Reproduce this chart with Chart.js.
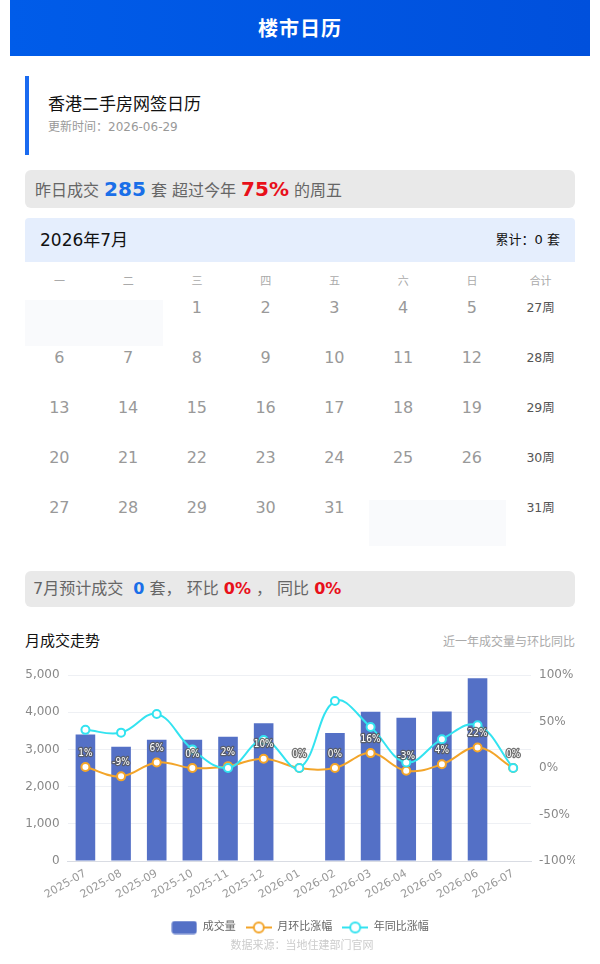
<!DOCTYPE html>
<html lang="zh-CN">
<head>
<meta charset="utf-8">
<title>楼市日历</title>
<script src="https://cdn.jsdelivr.net/npm/chart.js@4.4.1/dist/chart.umd.min.js"></script>
<style>
  body {
    margin: 0;
    width: 600px;
    height: 964px;
    background: #fff;
    font-family: "DejaVu Sans", "Noto Sans CJK SC", sans-serif;
    position: relative;
    overflow: hidden;
  }
  .abs { position: absolute; }
  .header {
    left: 10px; top: 0; width: 580px; height: 56px;
    background: linear-gradient(90deg, #005ce9, #0050dc);
    color: #fff; font-size: 20px; font-weight: bold;
    text-align: center; line-height: 58px; letter-spacing: 1px;
  }
  .side-bar { left: 25px; top: 76px; width: 4px; height: 79px; background: #1a6bf0; }
  .page-title { left: 48px; top: 92px; font-size: 17px; line-height: 24px; color: #111; }
  .update-time { left: 48px; top: 118px; font-size: 12px; line-height: 18px; color: #999; }
  .grey-box {
    left: 25px; width: 550px; background: #e9e9e9; border-radius: 6px;
    color: #666; white-space: nowrap;
  }
  .box-yesterday { top: 170px; height: 38px; line-height: 38px; font-size: 16px; padding-left: 10px; box-sizing: border-box; }
  .box-forecast { top: 571px; height: 36px; line-height: 36px; font-size: 16px; padding-left: 8px; box-sizing: border-box; }
  .blue { color: #1a6fe8; font-weight: bold; }
  .red { color: #e8101a; font-weight: bold; }
  .big { font-size: 20px; }
  .cal-head {
    left: 25px; top: 218px; width: 550px; height: 44px; background: #e5eefd;
    border-radius: 4px 4px 0 0; box-sizing: border-box; padding: 0 15px;
  }
  .cal-month { position: absolute; left: 15px; top: 0; line-height: 44px; font-size: 17px; color: #111; }
  .cal-total { position: absolute; right: 15px; top: 0; line-height: 44px; font-size: 13px; color: #111; }
  .cal-cell { position: absolute; width: 68.75px; text-align: center; }
  .weekday { font-size: 11px; color: #aaa; line-height: 20px; }
  .day { font-size: 16px; color: #999; line-height: 16px; height: 46px; }
  .day.empty { background: #f9fafc; }
  .week { font-size: 12.5px; color: #555; line-height: 16px; }
  .trend-title { left: 25px; top: 631px; font-size: 15px; line-height: 20px; color: #111; }
  .trend-sub { right: 25px; top: 633px; font-size: 12px; line-height: 18px; color: #aaa; }
  .chart-box { left: 25px; top: 655px; width: 550px; height: 288px; }
  .source { left: 0; width: 604px; top: 938px; text-align: center; font-size: 11px; line-height: 16px; color: #ccc; }
</style>
</head>
<body>
<div class="abs header">楼市日历</div>

<div class="abs side-bar"></div>
<div class="abs page-title">香港二手房网签日历</div>
<div class="abs update-time">更新时间：2026-06-29</div>

<div class="abs grey-box box-yesterday">昨日成交 <span class="blue big">285</span> 套 超过今年 <span class="red big">75%</span> 的周五</div>

<div class="abs cal-head">
  <div class="cal-month">2026年7月</div>
  <div class="cal-total">累计：0 套</div>
</div>
<div id="calendar"></div>

<div class="abs grey-box box-forecast">7月预计成交 &nbsp;<span class="blue">0</span> 套， 环比 <span class="red">0%</span> ， 同比 <span class="red">0%</span></div>

<div class="abs trend-title">月成交走势</div>
<div class="abs trend-sub">近一年成交量与环比同比</div>
<div class="abs chart-box"><canvas id="trendChart"></canvas></div>
<div class="abs source">数据来源：当地住建部门官网</div>

<script>
// calendar
const calYear = 2026;
const calMonth = 7;
const weekdayNames = ['一', '二', '三', '四', '五', '六', '日', '合计'];
const weekNumbers = [27, 28, 29, 30, 31];

// monthly trend
const months = ['2025-07', '2025-08', '2025-09', '2025-10', '2025-11', '2025-12',
    '2026-01', '2026-02', '2026-03', '2026-04', '2026-05', '2026-06', '2026-07'];
const volumes = [3400, 3070, 3260, 3260, 3340, 3700, 0, 3440, 4010, 3850, 4020, 4910, 0];
const momPct = [1, -9, 6, 0, 2, 10, 0, 0, 16, -3, 4, 22, 0];
const yoyPct = [41, 38, 58, 20, 0, 30, 0, 72, 44, 6, 31, 46, 0];

const volumeAxis = { min: 0, max: 5000, step: 1000 };
const pctAxis = { min: -100, max: 100, step: 50 };

const FONT = '"DejaVu Sans", "Noto Sans CJK SC", sans-serif';
const BAR_COLOR = '#5470c6';
const MOM_COLOR = '#f3a52a';
const YOY_COLOR = '#33e3f0';

function buildCalendar() {
    const root = document.getElementById('calendar');
    const colW = 68.75;
    weekdayNames.forEach((name, i) => {
        const el = document.createElement('div');
        el.className = 'cal-cell weekday';
        el.style.left = (25 + i * colW) + 'px';
        el.style.top = '272px';
        el.textContent = name;
        root.appendChild(el);
    });
    const first = new Date(calYear, calMonth - 1, 1);
    const offset = (first.getDay() + 6) % 7;
    const numDays = new Date(calYear, calMonth, 0).getDate();
    weekNumbers.forEach((wk, row) => {
        const top = 300 + row * 50;
        for (let col = 0; col < 7; col++) {
            const dayNum = row * 7 + col - offset + 1;
            const el = document.createElement('div');
            el.className = 'cal-cell day';
            el.style.left = (25 + col * colW) + 'px';
            el.style.top = top + 'px';
            if (dayNum < 1 || dayNum > numDays) {
                el.classList.add('empty');
            } else {
                el.textContent = dayNum;
            }
            root.appendChild(el);
        }
        const w = document.createElement('div');
        w.className = 'cal-cell week';
        w.style.left = (25 + 7 * colW) + 'px';
        w.style.top = top + 'px';
        w.textContent = wk + '周';
        root.appendChild(w);
    });
}

function legendIcon(kind, color) {
    const c = document.createElement('canvas');
    c.width = 26;
    c.height = 14;
    const g = c.getContext('2d');
    if (kind === 'bar') {
        g.fillStyle = color;
        g.beginPath();
        g.roundRect(0.5, 0.5, 25, 13, 3);
        g.fill();
    } else {
        g.strokeStyle = color;
        g.lineWidth = 2;
        g.beginPath();
        g.moveTo(0, 7);
        g.lineTo(26, 7);
        g.stroke();
        g.beginPath();
        g.arc(13, 7, 5, 0, Math.PI * 2);
        g.fillStyle = '#fff';
        g.fill();
        g.stroke();
    }
    return c;
}

// orange labels above the month-on-month points
const momLabelPlugin = {
    id: 'momLabels',
    afterDatasetsDraw(chart) {
        const meta = chart.getDatasetMeta(1);
        const ctx = chart.ctx;
        ctx.save();
        ctx.font = '10px "DejaVu Sans Condensed", "Liberation Sans Narrow", "Liberation Sans", sans-serif';
        ctx.textAlign = 'center';
        ctx.textBaseline = 'middle';
        ctx.lineJoin = 'round';
        meta.data.forEach((pt, i) => {
            const txt = momPct[i] + '%';
            const y = pt.y - 14;
            ctx.lineWidth = 2.5;
            ctx.strokeStyle = 'rgba(90,90,90,0.85)';
            ctx.strokeText(txt, pt.x, y);
            ctx.fillStyle = '#fff';
            ctx.fillText(txt, pt.x, y);
        });
        ctx.restore();
    }
};

buildCalendar();

const icons = {
    bar: legendIcon('bar', BAR_COLOR),
    mom: legendIcon('line', MOM_COLOR),
    yoy: legendIcon('line', YOY_COLOR)
};

new Chart(document.getElementById('trendChart'), {
    data: {
        labels: months,
        datasets: [{
            type: 'line',
            label: '年同比涨幅',
            data: yoyPct,
            yAxisID: 'y1',
            borderColor: YOY_COLOR,
            borderWidth: 2,
            tension: 0.4,
            pointRadius: 4,
            pointBorderWidth: 2,
            pointBackgroundColor: '#fff',
            pointBorderColor: YOY_COLOR,
            order: 1
        }, {
            type: 'line',
            label: '月环比涨幅',
            data: momPct,
            yAxisID: 'y1',
            borderColor: MOM_COLOR,
            borderWidth: 2,
            tension: 0.4,
            pointRadius: 4,
            pointBorderWidth: 2,
            pointBackgroundColor: '#fff',
            pointBorderColor: MOM_COLOR,
            order: 2
        }, {
            type: 'bar',
            label: '成交量',
            data: volumes,
            yAxisID: 'y',
            backgroundColor: BAR_COLOR,
            barPercentage: 0.55,
            categoryPercentage: 1,
            order: 3
        }]
    },
    options: {
        responsive: true,
        maintainAspectRatio: false,
        animation: false,
        layout: { padding: { top: 20, bottom: 0 } },
        plugins: {
            tooltip: { enabled: false },
            legend: {
                position: 'bottom',
                labels: {
                    usePointStyle: true,
                    pointStyleWidth: 26,
                    boxHeight: 14,
                    padding: 10,
                    color: '#666',
                    font: { size: 11, family: FONT },
                    generateLabels: () => [
                        { text: '成交量', pointStyle: icons.bar, datasetIndex: 2, fontColor: '#666', lineWidth: 0, strokeStyle: 'transparent', fillStyle: 'transparent' },
                        { text: '月环比涨幅', pointStyle: icons.mom, datasetIndex: 1, fontColor: '#666', lineWidth: 0, strokeStyle: 'transparent', fillStyle: 'transparent' },
                        { text: '年同比涨幅', pointStyle: icons.yoy, datasetIndex: 0, fontColor: '#666', lineWidth: 0, strokeStyle: 'transparent', fillStyle: 'transparent' }
                    ]
                }
            }
        },
        scales: {
            x: {
                grid: { display: false, drawTicks: false },
                border: { color: '#d9dce3' },
                ticks: {
                    color: '#999',
                    font: { size: 11, family: FONT },
                    minRotation: 30,
                    maxRotation: 30,
                    autoSkip: false,
                    padding: 6
                },
                afterFit(scale) { scale.height = 51; }
            },
            y: {
                position: 'left',
                min: volumeAxis.min,
                max: volumeAxis.max,
                grid: { color: '#eef0f4', drawTicks: false },
                border: { display: false },
                ticks: {
                    stepSize: volumeAxis.step,
                    color: '#888',
                    padding: 8,
                    font: { size: 12, family: FONT },
                    callback: v => v.toLocaleString('en-US')
                },
                afterFit(scale) { scale.width = 42.6; }
            },
            y1: {
                position: 'right',
                min: pctAxis.min,
                max: pctAxis.max,
                grid: { display: false, drawTicks: false },
                border: { display: false },
                ticks: {
                    stepSize: pctAxis.step,
                    color: '#888',
                    padding: 8,
                    font: { size: 12, family: FONT },
                    callback: v => v + '%'
                },
                afterFit(scale) { scale.width = 44; }
            }
        }
    },
    plugins: [momLabelPlugin]
});
</script>
</body>
</html>
